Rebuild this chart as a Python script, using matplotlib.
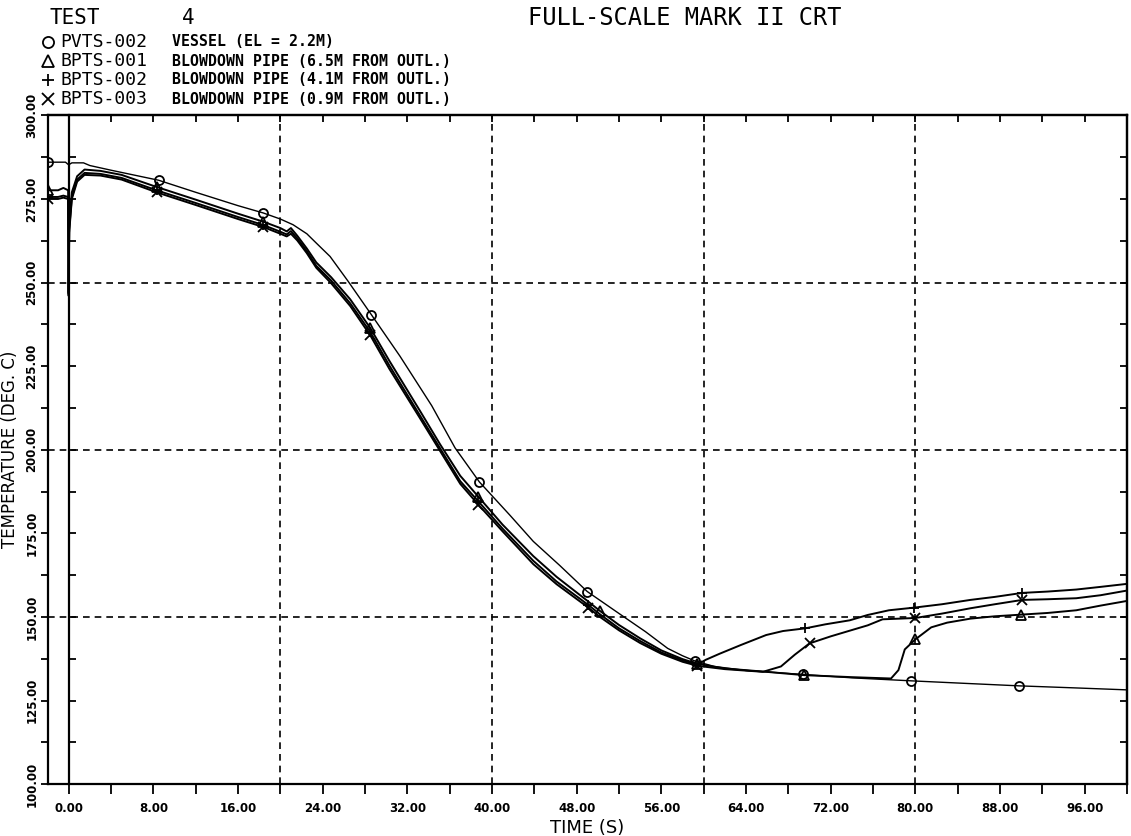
import matplotlib
matplotlib.use("Agg")
import matplotlib.pyplot as plt
from matplotlib.ticker import MultipleLocator, FormatStrFormatter
import numpy as np

# PVTS-002 vessel temperature
t_pv = [-2.0, -0.3, 0.0, 0.3, 1.4, 2.0, 4.0, 8.5, 12.0, 16.0, 18.4, 20.0, 21.2, 22.5,
        23.4, 24.7, 26.4, 28.6, 31.3, 34.3, 36.5, 38.8, 41.7, 43.9, 46.4, 49.0, 52.2,
        54.5, 56.6, 58.0, 59.2, 61.0, 64.0, 69.4, 74.0, 79.6, 85.0, 89.8, 95.0, 100.0]
y_pv = [286.0, 286.0, 285.2, 285.8, 285.8, 285.0, 283.6, 280.6, 277.0, 273.0, 270.8,
        269.0, 267.3, 264.6, 261.8, 257.8, 250.4, 240.4, 228.0, 213.2, 200.6, 190.4,
        180.4, 172.6, 165.4, 157.6, 150.6, 145.6, 140.6, 138.4, 136.8, 135.2, 134.0,
        132.8, 131.8, 130.9, 130.1, 129.4, 128.8, 128.2]

# blowdown pipe thermocouples, common part of the transient
t_pipe = [-2.0, -1.0, -0.5, -0.05, 0.0, 0.05, 0.3, 0.8, 1.5, 3.0, 5.0, 8.3, 12.0, 16.0,
          18.4, 20.0, 20.6, 21.0, 21.6, 22.5, 23.4, 24.8, 26.6, 28.5, 30.3, 33.2, 35.1,
          37.0, 38.7, 41.0, 43.9, 46.1, 49.1, 50.2, 52.0, 54.0, 56.0, 58.0, 59.4]
y_b1 = [277.6, 277.6, 278.3, 277.6, 247.0, 268.0, 277.0, 281.8, 283.8, 283.4, 282.2,
        278.6, 274.8, 270.6, 268.2, 266.3, 265.3, 266.3, 264.0, 260.2, 256.0, 251.6,
        245.0, 236.4, 226.6, 211.6, 201.6, 192.2, 186.0, 177.6, 168.2, 162.0, 154.6,
        151.8, 147.6, 143.6, 140.0, 137.4, 136.0]
y_b2 = [275.6, 275.6, 276.0, 275.6, 246.5, 266.0, 275.5, 280.8, 282.8, 282.5, 281.3,
        277.6, 273.8, 269.6, 267.2, 265.2, 264.4, 265.4, 263.2, 259.4, 255.0, 250.6,
        243.8, 235.2, 225.2, 210.2, 200.4, 190.6, 184.6, 176.4, 166.8, 160.6, 153.6,
        150.8, 146.6, 142.8, 139.4, 137.0, 135.8]
y_b3 = [275.0, 275.0, 275.4, 275.0, 246.0, 265.0, 275.0, 280.2, 282.2, 282.0, 280.8,
        277.0, 273.2, 269.0, 266.6, 264.6, 263.8, 264.6, 262.6, 258.8, 254.4, 249.8,
        243.0, 234.2, 224.2, 209.4, 199.6, 189.8, 183.6, 175.6, 165.8, 159.8, 152.8,
        150.0, 146.0, 142.2, 139.0, 136.6, 135.4]

# late part, after the pipes start to reheat
t_b1_late = [62.0, 65.9, 69.5, 74.0, 77.7, 78.4, 79.0, 80.0, 81.5, 83.0, 85.2, 87.5,
             90.0, 92.5, 95.2, 97.5, 100.0]
y_b1_late = [134.6, 133.6, 132.6, 132.0, 131.6, 134.1, 140.3, 143.3, 146.9, 148.3,
             149.5, 150.2, 150.7, 151.2, 152.0, 153.4, 154.8]
t_b2_late = [60.2, 61.5, 63.5, 65.9, 67.5, 69.6, 71.5, 73.8, 75.5, 77.5, 79.9, 82.5,
             85.2, 87.5, 90.1, 92.5, 95.2, 97.5, 100.0]
y_b2_late = [137.2, 139.0, 141.6, 144.6, 145.8, 146.6, 147.8, 149.0, 150.6, 152.0,
             152.8, 153.8, 155.1, 156.0, 157.2, 157.6, 158.2, 159.0, 159.9]
t_b3_late = [62.0, 65.6, 67.3, 68.6, 70.0, 72.0, 73.8, 75.5, 76.9, 78.5, 80.0, 82.5,
             85.2, 87.5, 90.1, 92.5, 95.2, 97.5, 100.0]
y_b3_late = [134.4, 133.6, 135.2, 138.7, 142.1, 144.2, 145.9, 147.5, 149.3, 149.5,
             149.7, 151.0, 152.6, 153.8, 155.1, 155.3, 155.6, 156.5, 157.9]

# symbol times for each trace
mk_pv = [-2.0, 8.5, 18.4, 28.6, 38.8, 49.0, 59.2, 69.4, 79.6, 89.8]
mk_b1 = [-2.0, 8.3, 18.4, 28.5, 38.7, 50.2, 59.4, 69.5, 80.0, 90.0]
mk_b2 = [-2.0, 8.3, 18.4, 28.5, 38.7, 49.1, 59.4, 69.6, 79.9, 90.1]
mk_b3 = [-2.0, 8.3, 18.4, 28.5, 38.7, 49.1, 59.4, 70.0, 80.0, 90.1]

ids = ["PVTS-002", "BPTS-001", "BPTS-002", "BPTS-003"]
descs = ["VESSEL (EL = 2.2M)", "BLOWDOWN PIPE (6.5M FROM OUTL.)",
         "BLOWDOWN PIPE (4.1M FROM OUTL.)", "BLOWDOWN PIPE (0.9M FROM OUTL.)"]
symbols = ["o", "^", "+", "x"]
grid_x = [20, 40, 60, 80]
grid_y = [150, 200, 250]

MONO = "DejaVu Sans Mono"


def idx(t, marks):
    t = np.asarray(t)
    return [int(np.argmin(np.abs(t - m))) for m in marks]


def set_locators(axis, major, minor):
    axis.set_major_locator(MultipleLocator(major))
    axis.set_minor_locator(MultipleLocator(minor))


fig = plt.figure(figsize=(11.31, 8.36), dpi=100)
ax = fig.add_axes([0.042, 0.062, 0.9545, 0.80])

for gx in grid_x:
    ax.axvline(gx, color="black", lw=1.2, ls=(0, (4, 3)), zorder=1)
for gy in grid_y:
    ax.axhline(gy, color="black", lw=1.2, ls=(0, (4, 3)), zorder=1)

series = [
    (t_pv, y_pv, mk_pv, symbols[0], 1.0),
    (t_pipe + t_b1_late, y_b1 + y_b1_late, mk_b1, symbols[1], 1.4),
    (t_pipe + t_b2_late, y_b2 + y_b2_late, mk_b2, symbols[2], 1.4),
    (t_pipe + t_b3_late, y_b3 + y_b3_late, mk_b3, symbols[3], 1.4),
]
for t, y, mk, m, lw in series:
    ax.plot(t, y, color="black", lw=lw, marker=m, markevery=idx(t, mk),
            markersize=6.5, markerfacecolor="none", markeredgewidth=1.3, zorder=3)

ax.set_xlim(-2, 100)
ax.set_ylim(100, 300)
set_locators(ax.xaxis, 8, 4)
set_locators(ax.yaxis, 25, 12.5)
ax.xaxis.set_major_formatter(FormatStrFormatter("%.2f"))
ax.yaxis.set_major_formatter(FormatStrFormatter("%.2f"))
ax.tick_params(which="both", direction="out", width=1.3)
ax.tick_params(axis="x", which="both", length=7)
ax.tick_params(axis="y", which="both", length=5)
ax.tick_params(axis="x", labelsize=8.5, pad=6)
ax.tick_params(axis="y", labelsize=8.5, pad=1.5)
for lab in ax.get_xticklabels() + ax.get_yticklabels():
    lab.set_fontweight("bold")
for lab in ax.get_yticklabels():
    lab.set_rotation(90)
    lab.set_va("center")
for sp in ax.spines.values():
    sp.set_linewidth(1.6)

# inward ticks on the top and right borders and on the t = 0 line
top = ax.secondary_xaxis("top")
right = ax.secondary_yaxis("right")
zero = ax.secondary_yaxis(2 / 102)
set_locators(top.xaxis, 8, 4)
set_locators(right.yaxis, 25, 12.5)
set_locators(zero.yaxis, 25, 12.5)
for sec in (top, right, zero):
    sec.tick_params(which="both", direction="in", length=5, width=1.3,
                    labeltop=False, labelright=False, labelleft=False, labelbottom=False)
    for sp in sec.spines.values():
        sp.set_linewidth(1.6)

ax.set_xlabel("TIME (S)", fontsize=13, labelpad=3)
ax.set_ylabel("TEMPERATURE (DEG. C)", fontsize=12, labelpad=5)

# header block
fig.text(50 / 1131, 1 - 18 / 836, "TEST", fontsize=15, va="center", family=MONO)
fig.text(182 / 1131, 1 - 18 / 836, "4", fontsize=15, va="center", family=MONO)
fig.text(528 / 1131, 1 - 18 / 836, "FULL-SCALE MARK II CRT", fontsize=17, va="center",
         family=MONO)
for i, (sid, desc, sym) in enumerate(zip(ids, descs, symbols)):
    yy = 1 - (42 + 19 * i) / 836
    fig.lines.append(plt.Line2D([48 / 1131], [yy], transform=fig.transFigure, marker=sym,
                                markersize=8, markerfacecolor="none", markeredgewidth=1.3,
                                color="black", ls="none"))
    fig.text(60 / 1131, yy, sid, fontsize=13, va="center", family=MONO)
    fig.text(172 / 1131, yy, desc, fontsize=10.7, va="center", family=MONO, weight="bold")

fig.savefig("out.png", dpi=100)
